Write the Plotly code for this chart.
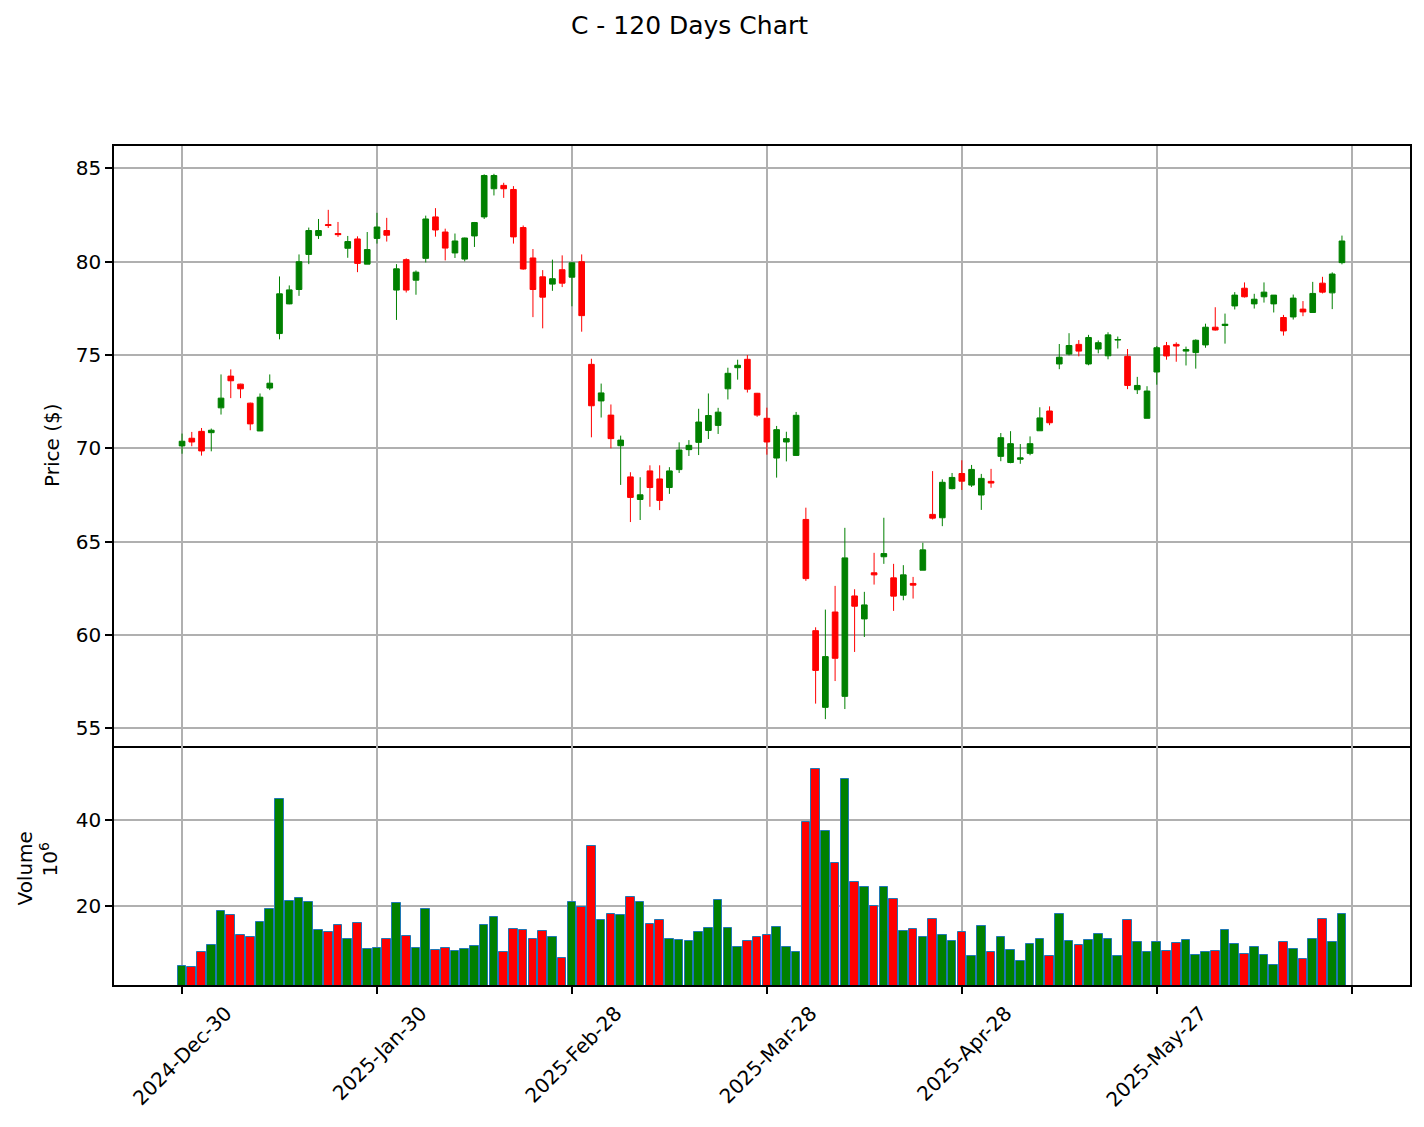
import plotly.graph_objects as go

# ---------------- data ----------------
opens = [70.13, 70.54, 70.91, 70.84, 72.17, 73.87, 73.44, 72.42, 70.93, 73.23,
         76.15, 77.74, 78.51, 80.39, 81.40, 81.99, 81.51, 80.72, 81.22, 79.87,
         81.25, 81.67, 78.48, 80.11, 79.01, 80.18, 82.40, 81.59, 80.47, 80.14,
         81.38, 82.40, 83.91, 84.09, 83.87, 81.83, 80.20, 79.19, 78.80, 79.57,
         79.17, 80.00, 74.50, 72.54, 71.78, 70.14, 68.47, 67.26, 68.79, 68.36,
         67.90, 68.86, 69.93, 70.32, 70.96, 71.23, 73.19, 74.32, 74.77, 72.95,
         71.61, 69.48, 70.34, 69.62, 66.19, 60.23, 56.12, 61.23, 56.71, 62.09,
         60.86, 63.33, 64.19, 63.06, 62.13, 62.76, 63.47, 66.46, 66.28, 67.84,
         68.65, 68.03, 67.50, 68.23, 69.57, 69.24, 69.41, 69.73, 70.94, 72.00,
         74.52, 75.05, 75.57, 74.52, 75.32, 74.96, 75.80, 74.93, 73.14, 71.61,
         74.09, 75.50, 75.57, 75.21, 75.13, 75.54, 76.49, 76.58, 77.63, 78.58,
         77.74, 78.12, 77.74, 77.01, 77.04, 77.46, 77.28, 78.85, 78.33, 79.95]
highs = [70.79, 70.88, 71.09, 71.06, 73.96, 74.23, 73.46, 72.45, 72.94, 73.96,
         79.21, 78.73, 80.39, 81.83, 82.29, 82.78, 82.13, 81.38, 81.36, 81.59,
         82.62, 82.35, 79.87, 80.18, 79.53, 82.47, 82.87, 81.77, 81.51, 81.29,
         82.13, 84.68, 84.71, 84.23, 84.05, 81.94, 80.68, 79.55, 80.11, 80.34,
         79.98, 80.39, 74.80, 73.47, 72.35, 70.68, 68.72, 68.45, 69.09, 69.09,
         68.99, 70.32, 70.44, 72.12, 72.94, 72.17, 74.32, 74.75, 75.00, 72.97,
         72.18, 71.20, 70.89, 71.95, 66.82, 60.41, 61.36, 62.63, 65.74, 62.45,
         62.31, 64.40, 66.28, 63.81, 63.74, 63.11, 64.94, 68.78, 68.34, 68.68,
         69.36, 69.11, 68.63, 68.90, 70.82, 70.92, 70.23, 70.64, 72.20, 72.25,
         75.59, 76.17, 75.80, 76.08, 75.78, 76.22, 75.99, 75.32, 73.83, 73.33,
         75.48, 75.70, 75.68, 75.45, 75.84, 76.68, 77.56, 77.22, 78.37, 78.89,
         78.28, 78.89, 78.21, 77.15, 78.24, 77.89, 78.92, 79.19, 79.43, 81.40]
lows = [69.71, 70.11, 69.61, 69.84, 71.81, 72.69, 72.69, 70.97, 70.93, 73.12,
        75.84, 77.72, 78.17, 79.87, 81.22, 81.81, 81.33, 80.21, 79.44, 79.87,
        80.97, 81.08, 76.88, 78.35, 78.23, 79.96, 81.34, 80.07, 80.20, 80.02,
        80.79, 82.29, 83.55, 83.42, 80.97, 79.57, 77.03, 76.43, 78.44, 78.64,
        77.61, 76.25, 70.59, 71.65, 70.00, 68.04, 66.05, 66.16, 66.87, 66.69,
        67.56, 68.68, 69.59, 69.64, 70.50, 70.77, 72.62, 73.68, 72.99, 71.69,
        69.66, 68.43, 69.30, 69.59, 62.90, 56.32, 55.49, 57.53, 56.03, 59.09,
        59.89, 62.70, 63.81, 61.29, 61.86, 61.95, 63.47, 66.19, 65.83, 67.80,
        67.77, 67.93, 66.70, 67.89, 69.31, 69.20, 69.17, 69.63, 70.94, 71.24,
        74.24, 74.98, 74.93, 74.45, 75.09, 74.77, 75.35, 73.17, 72.91, 71.61,
        73.41, 74.75, 74.64, 74.44, 74.27, 75.39, 76.31, 75.61, 77.44, 78.08,
        77.49, 77.81, 77.28, 76.04, 76.90, 77.08, 77.28, 78.30, 77.46, 79.86]
closes = [70.38, 70.34, 69.86, 70.97, 72.69, 73.62, 73.19, 71.31, 72.74, 73.49,
          78.28, 78.49, 80.00, 81.67, 81.67, 81.94, 81.45, 81.08, 79.91, 80.65,
          81.86, 81.42, 79.62, 78.48, 79.44, 82.29, 81.70, 80.73, 81.11, 81.27,
          82.10, 84.62, 84.62, 83.91, 81.33, 79.61, 78.51, 78.10, 79.09, 78.85,
          79.94, 77.11, 72.28, 72.97, 70.52, 70.44, 67.37, 67.51, 67.90, 67.21,
          68.79, 69.91, 70.16, 71.41, 71.76, 71.94, 74.02, 74.45, 73.17, 71.78,
          70.34, 71.00, 70.52, 71.77, 63.02, 58.10, 58.84, 58.75, 64.13, 61.54,
          61.61, 63.22, 64.36, 62.08, 63.22, 62.67, 64.56, 66.26, 68.18, 68.44,
          68.24, 68.87, 68.39, 68.14, 70.57, 70.25, 69.49, 70.25, 71.63, 71.37,
          74.88, 75.51, 75.21, 75.94, 75.66, 76.08, 75.83, 73.37, 73.37, 73.07,
          75.39, 74.95, 75.48, 75.29, 75.79, 76.49, 76.34, 76.65, 78.21, 78.12,
          77.99, 78.37, 78.21, 76.29, 78.05, 77.31, 78.30, 78.37, 79.34, 81.11]
# volume in millions of shares
volumes = [6.23, 6.00, 9.46, 11.08, 18.92, 18.00, 13.38, 12.92, 16.38, 19.38,
           44.77, 21.23, 21.92, 21.00, 14.54, 14.08, 15.69, 12.46, 16.15, 10.15,
           10.38, 12.46, 20.77, 13.15, 10.38, 19.38, 9.92, 10.31, 9.69, 10.15,
           10.85, 15.77, 17.54, 9.46, 14.77, 14.54, 12.46, 14.31, 12.92, 8.08,
           21.00, 19.92, 33.92, 16.85, 18.23, 18.00, 22.15, 21.00, 15.92, 16.85,
           12.46, 12.23, 12.00, 14.08, 15.00, 21.46, 15.00, 10.62, 12.00, 12.92,
           13.38, 15.23, 10.62, 9.46, 39.46, 51.69, 37.38, 30.00, 49.38, 25.54,
           24.46, 20.08, 24.46, 21.69, 14.31, 14.77, 12.92, 17.08, 13.38, 12.00,
           14.08, 8.54, 15.54, 9.46, 12.92, 9.92, 7.38, 11.31, 12.46, 8.46,
           18.23, 12.00, 11.08, 12.23, 13.62, 12.46, 8.54, 16.85, 11.77, 9.46,
           11.77, 9.69, 11.54, 12.23, 8.77, 9.46, 9.69, 14.54, 11.31, 9.00,
           10.62, 8.77, 6.46, 11.77, 10.15, 7.85, 12.46, 17.08, 11.77, 18.23]
tick_labels = ["2024-Dec-30", "2025-Jan-30", "2025-Feb-28", "2025-Mar-28",
               "2025-Apr-28", "2025-May-27"]
price_ticks = [55, 60, 65, 70, 75, 80, 85]
volume_ticks = [20, 40]

# ---------------- figure ----------------
x = list(range(len(opens)))
tick_step = 20
tick_pos = [i * tick_step for i in range(len(tick_labels))]
extra_tick = [len(tick_labels) * tick_step]          # unlabeled last tick
vol_colors = ["green" if c >= o else "red" for o, c in zip(opens, closes)]

W, H = 1424, 1127
ML, MR, MT, MB = 114, 14, 146, 142
plot_h = H - MT - MB
split = (985 - 746) / plot_h

FONT = "DejaVu Sans"
GRID = "#b0b0b0"
FS = 20

fig = go.Figure()
fig.add_trace(go.Candlestick(
    x=x, open=opens, high=highs, low=lows, close=closes,
    xaxis="x", yaxis="y",
    increasing=dict(line=dict(color="green", width=1), fillcolor="green"),
    decreasing=dict(line=dict(color="red", width=1), fillcolor="red"),
    whiskerwidth=0, showlegend=False, hoverinfo="skip",
))
fig.add_trace(go.Bar(
    x=x, y=volumes, xaxis="x2", yaxis="y2",
    marker=dict(color=vol_colors, line=dict(color="#1f77b4", width=1)),
    width=0.88, showlegend=False, hoverinfo="skip",
))

axis_common = dict(showline=True, mirror=True, linecolor="black", linewidth=1.5,
                   showgrid=True, gridcolor=GRID, gridwidth=1.5, zeroline=False,
                   tickfont=dict(family=FONT, size=FS, color="black"),
                   tickcolor="black", ticklen=7, tickwidth=1.5)
xrange_ = [-6.98, 125.98]

fig.update_layout(
    width=W, height=H, autosize=False,
    margin=dict(l=ML, r=MR, t=MT, b=MB, pad=0),
    paper_bgcolor="white", plot_bgcolor="white",
    font=dict(family=FONT, size=FS, color="black"),
    boxgap=0.42, boxgroupgap=0,
    bargap=0,
    title=dict(text="C - 120 Days Chart", x=689.5 / W, xanchor="center",
               y=1 - 25 / H, yanchor="middle", yref="container",
               font=dict(family=FONT, size=25, color="black")),
    xaxis=dict(axis_common, domain=[0, 1], anchor="y", range=xrange_,
               tickvals=tick_pos, showticklabels=False, ticks="",
               minor=dict(tickvals=extra_tick, showgrid=True, gridcolor=GRID,
                          gridwidth=1.5, ticks=""),
               rangeslider=dict(visible=False)),
    xaxis2=dict(axis_common, domain=[0, 1], anchor="y2", matches="x",
                mirror=False,
                range=xrange_, tickvals=tick_pos, ticktext=tick_labels,
                tickangle=-45, ticks="outside", ticklabelshift=44,
                minor=dict(tickvals=extra_tick, showgrid=True, gridcolor=GRID,
                           gridwidth=1.5, ticks="outside", ticklen=7,
                           tickwidth=1.5, tickcolor="black")),
    yaxis=dict(axis_common, domain=[split, 1], anchor="x", range=[54.05, 86.2],
               tickvals=price_ticks, ticks="outside"),
    yaxis2=dict(axis_common, domain=[0, split], anchor="x2", range=[1.85, 57.0],
                tickvals=volume_ticks, ticks="outside"),
    annotations=[
        dict(text="Price ($)", xref="paper", yref="paper", x=0, xshift=52 - ML,
             y=(split + 1) / 2, textangle=-90, showarrow=False,
             xanchor="center", yanchor="middle",
             font=dict(family=FONT, size=FS, color="black")),
        dict(text="Volume", xref="paper", yref="paper", x=0, xshift=24 - ML,
             y=split / 2 - 3 / plot_h, textangle=-90, showarrow=False,
             xanchor="center", yanchor="middle",
             font=dict(family=FONT, size=FS, color="black")),
        dict(text="10<sup>6</sup>", xref="paper", yref="paper", x=0, xshift=48 - ML,
             y=split / 2 + 6 / plot_h, textangle=-90, showarrow=False,
             xanchor="center", yanchor="middle",
             font=dict(family=FONT, size=FS, color="black")),
    ],
)

fig.write_html("out.html", config={"displayModeBar": False},
               post_script="document.body.style.margin='0';document.body.style.overflow='hidden';")
